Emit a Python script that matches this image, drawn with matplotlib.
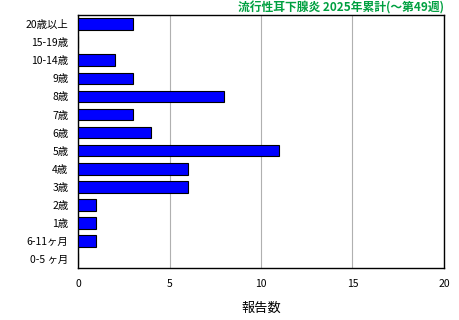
import matplotlib
matplotlib.use("Agg")
import matplotlib.pyplot as plt

plt.rcParams['font.family'] = ['Noto Sans CJK JP', 'DejaVu Sans']

categories = ["20歳以上", "15-19歳", "10-14歳", "9歳", "8歳", "7歳", "6歳", "5歳",
              "4歳", "3歳", "2歳", "1歳", "6-11ヶ月", "0-5 ヶ月"]
values = [3, 0, 2, 3, 8, 3, 4, 11, 6, 6, 1, 1, 1, 0]
xticks = [0, 5, 10, 15, 20]
title = "流行性耳下腺炎 2025年累計(～第49週)"
xlabel = "報告数"

fig = plt.figure(figsize=(4.6, 3.2), dpi=100)
ax = fig.add_axes([0.17, 0.1625, 0.795, 0.79])
pos = list(range(len(categories)))
ax.barh(pos, values, height=0.65, color="#0000FF", edgecolor="black", linewidth=0.8, zorder=3)
ax.set_ylim(len(categories) - 0.5, -0.5)
ax.set_xlim(0, 20)
ax.set_xticks(xticks)
ax.set_yticks(pos)
ax.set_yticklabels(categories, fontsize=7.5)
ax.tick_params(axis='x', labelsize=7.5, length=0, pad=8)
ax.tick_params(axis='y', length=0, pad=7)
ax.grid(axis='x', color="#b0b0b0", linewidth=0.8, zorder=0)
for s in ax.spines.values():
    s.set_color("black")
    s.set_linewidth(1.0)
ax.set_xlabel(xlabel, fontsize=9.5, labelpad=9)
fig.text(0.965, 0.9625, title, ha="right", va="baseline", fontsize=8.5, fontweight="bold", color="#00A040")
fig.savefig("out.png", dpi=100)
